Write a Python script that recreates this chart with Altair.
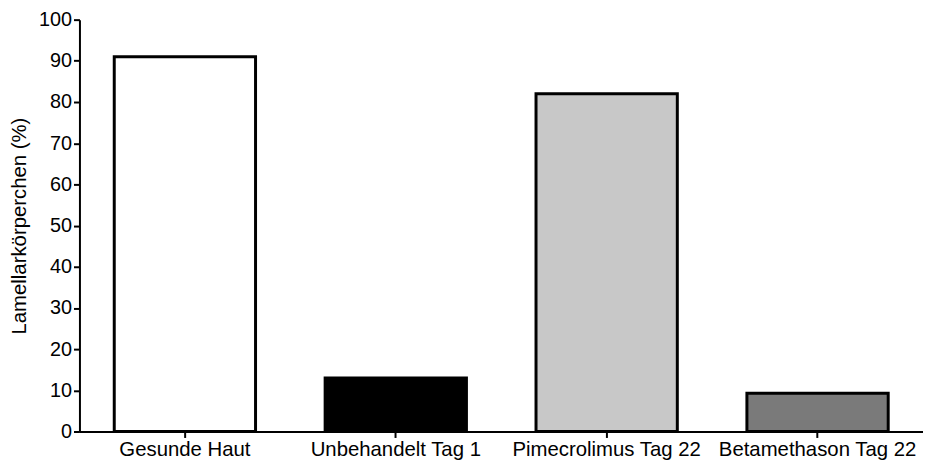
import altair as alt
import pandas as pd

categories = ["Gesunde Haut", "Unbehandelt Tag 1", "Pimecrolimus Tag 22", "Betamethason Tag 22"]
values = [91, 13, 82, 9.3]
fills = ["#ffffff", "#000000", "#c8c8c8", "#7a7a7a"]

df = pd.DataFrame({"Gruppe": categories, "Wert": values, "Fill": fills})

chart = alt.Chart(df).mark_bar(stroke="black", strokeWidth=3).encode(
    x=alt.X("Gruppe:N", sort=categories,
            scale=alt.Scale(paddingInner=0.33, paddingOuter=0.165),
            axis=alt.Axis(title=None, labelAngle=0, labelFontSize=20.5, labelColor="black",
                          labelFont="Liberation Sans", tickSize=6, tickWidth=2, tickColor="black",
                          domainWidth=2, domainColor="black", labelPadding=2, labelOverlap=False,
                          labelLimit=0)),
    y=alt.Y("Wert:Q", scale=alt.Scale(domain=[0, 100], nice=False),
            axis=alt.Axis(title="Lamellarkörperchen (%)", values=list(range(0, 101, 10)),
                          titleFontSize=20.5, titleFontWeight="normal", titleFont="Liberation Sans",
                          titleColor="black", labelFontSize=20, labelColor="black",
                          labelFont="Liberation Sans", tickSize=6, tickWidth=2, tickColor="black",
                          domainWidth=2, domainColor="black", grid=False, labelPadding=2,
                          titlePadding=9)),
    fill=alt.Fill("Fill:N", scale=None),
).properties(
    width=850, height=415,
    autosize=alt.AutoSizeParams(type="none"),
    padding={"left": 72, "top": 10, "right": 0, "bottom": 30},
).configure_view(stroke=None)

chart.save("out.html", embed_options={"renderer": "svg", "actions": False})
